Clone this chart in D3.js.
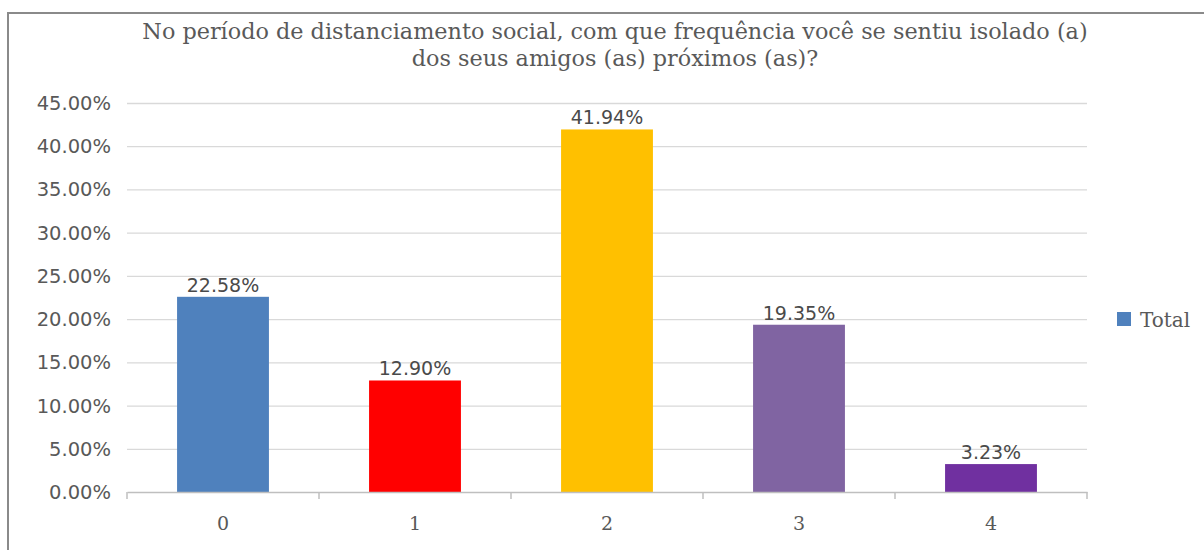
<!DOCTYPE html>
<html>
<head>
<meta charset="utf-8">
<script src="https://cdn.jsdelivr.net/npm/d3@7"></script>
<style>
  body { margin: 0; background: #fff; }
  svg { display: block; }
  .grid line { stroke: #d9d9d9; stroke-width: 1.3px; }
  .grid .domain { display: none; }
</style>
</head>
<body>
<svg></svg>
<script>
// data
const categories = ["0", "1", "2", "3", "4"]
const values = [22.58, 12.90, 41.94, 19.35, 3.23]
const barColors = ["#4f81bd", "#ff0000", "#ffc000", "#8064a2", "#7030a0"]
const yTicks = [0, 5, 10, 15, 20, 25, 30, 35, 40, 45]
const titleLines = [
  "No período de distanciamento social, com que frequência você se sentiu isolado (a)",
  "dos seus amigos (as) próximos (as)?"
]
const legendLabel = "Total"

const width = 1204, height = 550
margin = ({top: 103, right: 117, bottom: 58, left: 127})

const svg = d3.select("svg")
  .attr("width", width)
  .attr("height", height)

// frame (only top and left edges show in the crop)
svg.append("path")
  .attr("d", `M8,${height} V13 H${width}`)
  .attr("fill", "none")
  .attr("stroke", "#8a8a8a")
  .attr("stroke-width", 2)

const x = d3.scaleBand()
  .domain(categories)
  .range([margin.left, width - margin.right])
  .paddingInner(0)
  .paddingOuter(0)

const y = d3.scaleLinear()
  .domain([0, 45])
  .range([height - margin.bottom, margin.top])

const barW = x.bandwidth() / 2.09

// gridlines
svg.append("g")
  .attr("class", "grid")
  .attr("transform", `translate(${margin.left},0)`)
  .call(d3.axisLeft(y).tickValues(yTicks.slice(1)).tickSize(-(width - margin.right - margin.left)).tickFormat(""))

// y labels
svg.append("g")
  .selectAll("text")
  .data(yTicks)
  .join("text")
  .attr("x", 111)
  .attr("y", d => y(d))
  .attr("dy", "0.36em")
  .attr("text-anchor", "end")
  .attr("fill", "#595959")
  .style("font-family", "'DejaVu Sans'")
  .style("font-size", "19.5px")
  .text(d => d.toFixed(2) + "%")

// bars
svg.append("g")
  .selectAll("rect")
  .data(values)
  .join("rect")
  .attr("x", (d, i) => x(categories[i]) + (x.bandwidth() - barW) / 2)
  .attr("y", d => y(d))
  .attr("width", barW)
  .attr("height", d => y(0) - y(d))
  .attr("fill", (d, i) => barColors[i])

// data labels
svg.append("g")
  .selectAll("text")
  .data(values)
  .join("text")
  .attr("x", (d, i) => x(categories[i]) + x.bandwidth() / 2)
  .attr("y", d => y(d) - 5)
  .attr("text-anchor", "middle")
  .attr("fill", "#4a4a4a")
  .style("font-family", "'DejaVu Sans'")
  .style("font-size", "19px")
  .text(d => d.toFixed(2) + "%")

// x axis
const xAxis = svg.append("g")
  .attr("transform", `translate(0,${y(0)})`)
  .call(d3.axisBottom(x).tickSize(0).tickSizeOuter(0))
xAxis.select(".domain").attr("stroke", "#bfbfbf").attr("stroke-width", 1.5)
xAxis.selectAll(".tick text")
  .attr("fill", "#595959")
  .attr("dy", 0)
  .attr("y", 38)
  .style("font-family", "'DejaVu Serif'")
  .style("font-size", "19px")

// category boundary ticks
const bounds = categories.map(c => x(c)).concat([width - margin.right])
xAxis.selectAll(".btick")
  .data(bounds)
  .join("line")
  .attr("class", "btick")
  .attr("x1", d => d).attr("x2", d => d)
  .attr("y1", 0).attr("y2", 7)
  .attr("stroke", "#bfbfbf")
  .attr("stroke-width", 1.5)

// title
const title = svg.append("g")
  .selectAll("text")
  .data(titleLines)
  .join("text")
  .attr("x", 615)
  .attr("y", (d, i) => 39 + i * 27)
  .attr("text-anchor", "middle")
  .attr("fill", "#595959")
  .style("font-family", "'DejaVu Serif'")
  .style("font-size", "18px")
  .text(d => d)

// fit first title line to the width seen in the picture
const w0 = title.nodes()[0].getComputedTextLength()
const fs = 18 * 946 / w0
title.style("font-size", fs + "px")

// legend
svg.append("rect")
  .attr("x", 1117).attr("y", 312)
  .attr("width", 14).attr("height", 14)
  .attr("fill", barColors[0])
svg.append("text")
  .attr("x", 1140).attr("y", 327)
  .attr("fill", "#595959")
  .style("font-family", "'DejaVu Serif'")
  .style("font-size", "20px")
  .text(legendLabel)
</script>
</body>
</html>
